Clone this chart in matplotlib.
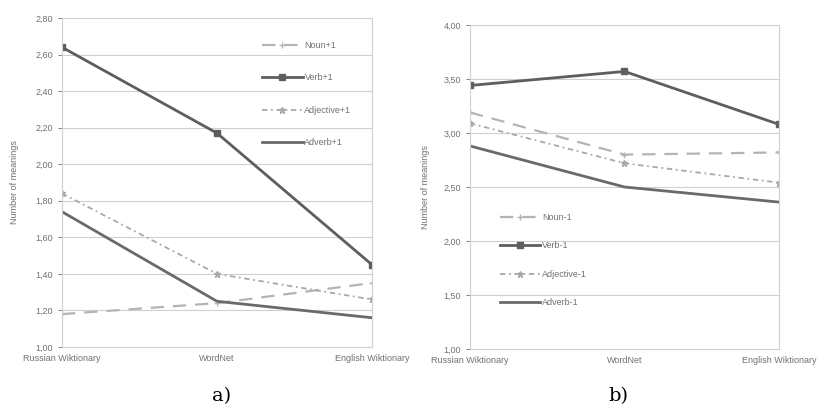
import matplotlib
matplotlib.use("Agg")
import matplotlib.pyplot as plt
from matplotlib.ticker import FixedLocator

categories = ["Russian Wiktionary", "WordNet", "English Wiktionary"]

# Panel a) (+1)
noun_a = [1.18, 1.24, 1.35]
verb_a = [2.64, 2.17, 1.45]
adj_a = [1.84, 1.40, 1.26]
adv_a = [1.74, 1.25, 1.16]
labels_a = ["Noun+1", "Verb+1", "Adjective+1", "Adverb+1"]
yticks_a = [1.00, 1.20, 1.40, 1.60, 1.80, 2.00, 2.20, 2.40, 2.60, 2.80]

# Panel b) (-1)
noun_b = [3.19, 2.80, 2.82]
verb_b = [3.44, 3.57, 3.08]
adj_b = [3.09, 2.72, 2.54]
adv_b = [2.88, 2.50, 2.36]
labels_b = ["Noun-1", "Verb-1", "Adjective-1", "Adverb-1"]
yticks_b = [1.00, 1.50, 2.00, 2.50, 3.00, 3.50, 4.00]

plt.rcParams["font.family"] = ["Liberation Sans", "DejaVu Sans"]

W, H = 817, 409
fig = plt.figure(figsize=(W / 100, H / 100), dpi=100)

def rect(x0, y0, x1, y1):
    return [x0 / W, 1 - y1 / H, (x1 - x0) / W, (y1 - y0) / H]

txtc = "#707070"
gridc = "#d0d0d0"

def draw(ax, series, labels, yticks, legend_loc, spacing, ylab_x):
    x = list(range(len(categories)))
    styles = [
        dict(color="#b4b4b4", lw=1.6, ls=(0, (6, 4)), marker="+", ms=4, mew=1.0),
        dict(color="#5e5e5e", lw=2.0, ls="-", marker="s", ms=5),
        dict(color="#a8a8a8", lw=1.3, ls=(0, (3, 2, 1, 2)), marker="*", ms=5),
        dict(color="#6a6a6a", lw=2.0, ls="-", marker=None),
    ]
    for ys, lab, st in zip(series, labels, styles):
        ax.plot(x, ys, label=lab, **st)
    ax.set_xlim(0, 2)
    ax.set_ylim(yticks[0], yticks[-1])
    ax.yaxis.set_major_locator(FixedLocator(yticks))
    ax.set_yticklabels([f"{t:.2f}".replace(".", ",") for t in yticks])
    ax.set_xticks(x)
    ax.set_xticklabels(categories)
    ax.grid(axis="y", color=gridc, lw=0.8)
    ax.set_axisbelow(True)
    ax.spines["top"].set_visible(False)
    for s in ["left", "right", "bottom"]:
        ax.spines[s].set_color(gridc)
        ax.spines[s].set_linewidth(0.8)
    ax.tick_params(axis="both", colors=txtc, labelsize=6.5, length=3, width=0.6)
    ax.tick_params(axis="x", length=0, pad=5)
    ax.set_ylabel("Number of meanings", color=txtc, fontsize=6.5)
    ax.yaxis.set_label_coords(ylab_x, 0.5)
    ax.legend(loc=legend_loc, frameon=False, fontsize=6.5, labelspacing=spacing,
              handlelength=4.5, handletextpad=0.2, labelcolor=txtc)

ax1 = fig.add_axes(rect(62, 18, 372, 347))
draw(ax1, [noun_a, verb_a, adj_a, adv_a], labels_a, yticks_a, "upper right", 2.6, -0.14)
ax1.get_legend().set_bbox_to_anchor((0.96, 0.955))

ax2 = fig.add_axes(rect(470, 25, 779, 349))
draw(ax2, [noun_b, verb_b, adj_b, adv_b], labels_b, yticks_b, "upper left", 2.15, -0.13)
ax2.get_legend().set_bbox_to_anchor((0.07, 0.445))

fig.text(222 / W, 1 - 396 / H, "a)", fontsize=14, family="DejaVu Serif", ha="center", va="center")
fig.text(618 / W, 1 - 396 / H, "b)", fontsize=14, family="DejaVu Serif", ha="center", va="center")

fig.savefig("out.png", dpi=100)
